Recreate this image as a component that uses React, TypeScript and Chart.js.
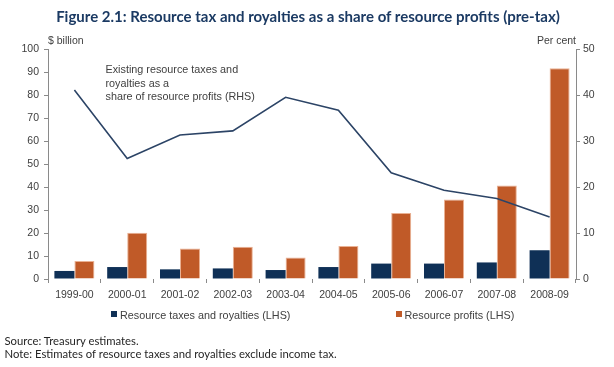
import React, { useEffect, useRef } from "react";
import { Chart, registerables } from "chart.js";

Chart.register(...registerables);

const categories = ["1999-00", "2000-01", "2001-02", "2002-03", "2003-04", "2004-05", "2005-06", "2006-07", "2007-08", "2008-09"];
const taxesRoyalties = [3.5, 5.2, 4.2, 4.6, 3.9, 5.2, 6.7, 6.7, 7.2, 12.5];
const resourceProfits = [7.8, 20.1, 13.3, 14.0, 9.3, 14.3, 28.7, 34.6, 40.7, 91.6];
const shareOfProfits = [41.1, 26.2, 31.3, 32.2, 39.5, 36.7, 23.1, 19.3, 17.5, 13.5];
const leftTicks = [0, 10, 20, 30, 40, 50, 60, 70, 80, 90, 100];
const rightTicks = [0, 10, 20, 30, 40, 50];

const TITLE = "Figure 2.1: Resource tax and royalties as a share of resource profits (pre-tax)";
const ANNOTATION = ["Existing resource taxes and", "royalties as a", "share of resource profits (RHS)"];
const LEGEND_TAX = "Resource taxes and royalties (LHS)";
const LEGEND_PROFITS = "Resource profits (LHS)";
const SOURCE = "Source: Treasury estimates.";
const NOTE = "Note: Estimates of resource taxes and royalties exclude income tax.";

const NAVY = "#0f3056";
const ORANGE = "#c05a28";
const LINE = "#2c4466";
const AXIS = "#8a8a8a";
const TEXT = "#404040";
const FONT = "'Liberation Sans', Arial, sans-serif";

export default function App() {
  const ref = useRef<HTMLCanvasElement | null>(null);

  useEffect(() => {
    document.body.style.margin = "0";
    const canvas = ref.current;
    if (!canvas) return;
    const chart = new Chart(canvas, {
      type: "bar",
      data: {
        labels: categories,
        datasets: [
          {
            type: "line",
            label: "Share",
            data: shareOfProfits,
            yAxisID: "y1",
            borderColor: LINE,
            borderWidth: 1.6,
            pointRadius: 0,
            tension: 0,
            order: 0,
          } as any,
          {
            label: LEGEND_TAX,
            data: taxesRoyalties,
            backgroundColor: NAVY,
            borderWidth: 0,
            yAxisID: "y",
            categoryPercentage: 0.758,
            barPercentage: 1,
            order: 1,
          },
          {
            label: LEGEND_PROFITS,
            data: resourceProfits,
            backgroundColor: ORANGE,
            borderColor: "#eab193",
            borderWidth: 1,
            borderSkipped: "bottom",
            yAxisID: "y",
            categoryPercentage: 0.758,
            barPercentage: 1,
            order: 1,
          },
        ],
      },
      options: {
        responsive: false,
        animation: false,
        layout: { padding: { left: 0, right: 0, top: 49, bottom: 68 } },
        plugins: {
          legend: { display: false },
          title: { display: false },
          tooltip: { enabled: false },
        },
        scales: {
          x: {
            grid: { display: true, drawOnChartArea: false, drawTicks: true, tickLength: 4, color: AXIS, offset: true },
            border: { display: false },
            ticks: { color: TEXT, font: { family: FONT, size: 10.5 }, padding: 6, maxRotation: 0, autoSkip: false },
            afterFit: (s: any) => { s.height = 20; },
          },
          y: {
            position: "left",
            min: 0,
            max: 100,
            afterBuildTicks: (s: any) => { s.ticks = leftTicks.map((v) => ({ value: v })); },
            grid: { display: true, drawOnChartArea: false, drawTicks: true, tickLength: 4, color: AXIS },
            border: { display: true, color: AXIS, width: 1 },
            ticks: { color: TEXT, font: { family: FONT, size: 10.5 }, padding: 5 },
            afterFit: (s: any) => { s.width = 48; },
          },
          y1: {
            position: "right",
            min: 0,
            max: 50,
            afterBuildTicks: (s: any) => { s.ticks = rightTicks.map((v) => ({ value: v })); },
            grid: { display: true, drawOnChartArea: false, drawTicks: true, tickLength: 4, color: AXIS },
            border: { display: true, color: AXIS, width: 1 },
            ticks: { color: TEXT, font: { family: FONT, size: 10.5 }, padding: 3 },
            afterFit: (s: any) => { s.width = 38; },
          },
        },
      },
    });
    return () => chart.destroy();
  }, []);

  const abs = (extra: React.CSSProperties): React.CSSProperties => ({ position: "absolute", whiteSpace: "nowrap", ...extra });

  return (
    <div style={{ position: "relative", width: 614, height: 367, background: "#fff", overflow: "hidden" }}>
      <canvas ref={ref} width={614} height={367} style={{ position: "absolute", left: 0, top: 0, width: 614, height: 367 }} />
      <div style={abs({ left: 0, width: 616, top: 6, textAlign: "center", fontFamily: "Lato, sans-serif", fontWeight: 700, fontSize: 15, lineHeight: "20px", color: "#1b3a63" })}>{TITLE}</div>
      <div style={abs({ left: 48, top: 33, fontFamily: FONT, fontSize: 10.5, lineHeight: "14px", color: TEXT })}>$ billion</div>
      <div style={abs({ right: 614 - 576, top: 33, fontFamily: FONT, fontSize: 10.5, lineHeight: "14px", color: TEXT })}>Per cent</div>
      <div style={abs({ left: 105.5, top: 63, fontFamily: FONT, fontSize: 10.8, lineHeight: "13.5px", color: TEXT })}>
        {ANNOTATION.map((t, i) => (<div key={i}>{t}</div>))}
      </div>
      <div style={abs({ left: 111, top: 311, width: 6, height: 6, background: NAVY })} />
      <div style={abs({ left: 120, top: 308, fontFamily: FONT, fontSize: 10.8, lineHeight: "14px", color: TEXT })}>{LEGEND_TAX}</div>
      <div style={abs({ left: 396, top: 311, width: 6, height: 6, background: ORANGE })} />
      <div style={abs({ left: 404.5, top: 308, fontFamily: FONT, fontSize: 10.8, lineHeight: "14px", color: TEXT })}>{LEGEND_PROFITS}</div>
      <div style={abs({ left: 4.5, top: 334, fontFamily: "Lato, sans-serif", fontSize: 11.3, lineHeight: "14px", color: "#262626" })}>{SOURCE}</div>
      <div style={abs({ left: 4.5, top: 347, fontFamily: "Lato, sans-serif", fontSize: 11.3, lineHeight: "14px", color: "#262626" })}>{NOTE}</div>
    </div>
  );
}
